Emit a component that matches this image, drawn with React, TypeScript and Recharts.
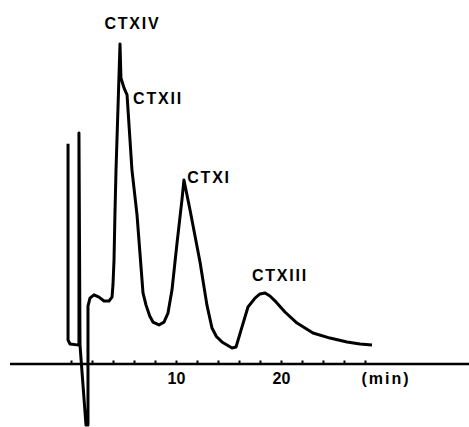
import { LineChart, Line, XAxis, YAxis, ReferenceLine, ReferenceDot } from "recharts";

// pen trace of the chromatogram: retention time (min) vs detector response (rel. %)
const times = [
  -0.33, -0.33, -0.14, 0.71, 0.71, 0.81, 1.38, 1.57, 1.57, 1.76, 2.14, 2.62, 3.1, 3.57, 3.86, 3.95,
  4.05, 4.14, 4.24, 4.62, 4.71, 5.0, 5.29, 5.76, 6.24, 6.81, 7.1, 7.45, 7.76, 8.33, 8.81, 9.19, 9.57,
  10.05, 10.52, 10.71, 11.29, 12.24, 12.9, 13.38, 13.8, 14.33, 15.29, 15.67, 16.24, 16.81, 17.48, 17.95,
  18.43, 18.9, 19.48, 20.33, 21.48, 23.0, 24.62, 26.24, 27.48, 28.62,
];
const response = [
  68.8, 7.5, 6.25, 5.9, 72.2, 5.9, -19.1, -19.1, 18.1, 20.6, 21.6, 20.9, 19.7, 19.7, 20.9, 24.7,
  32.5, 47.2, 60.6, 100, 89.4, 86.3, 84.1, 60.6, 46.6, 22.2, 18.4, 15.0, 13.1, 12.2, 13.1, 15.9, 23.1,
  37.8, 51.3, 57.5, 48.1, 31.9, 18.4, 11.25, 8.6, 6.9, 5.0, 5.3, 11.6, 17.8, 20.6, 21.9,
  22.2, 21.25, 19.4, 16.25, 12.8, 9.7, 8.1, 6.9, 6.25, 5.9,
];

const tickTimes = [0, 2, 4, 6, 8, 10, 12, 14, 16, 18, 20, 22, 24, 26, 28];

const peakNames = ["CTXIV", "CTXII", "CTXI", "CTXIII"];
const peakLabelT = [5.81, 8.24, 13.1, 19.86];
const peakLabelV = [106.6, 83.1, 58.4, 27.8];

const axisLabels = ["10", "20", "(min)"];
const axisLabelT = [10, 20, 29.95];

const data = times.map((t, i) => ({ t, v: response[i] }));

const font = "'Liberation Sans', Arial, sans-serif";

export default function App() {
  return (
    <div style={{ position: "absolute", left: 0, top: 0, background: "#fff" }}>
      <LineChart width={469} height={427} data={data} margin={{ top: 0, right: 0, bottom: 0, left: 0 }}>
        <XAxis type="number" dataKey="t" domain={[-6.81, 37.86]} allowDataOverflow hide />
        <YAxis type="number" domain={[-19.69, 113.75]} allowDataOverflow hide />
        <ReferenceLine
          segment={[{ x: -5.86, y: 0 }, { x: 37.86, y: 0 }]}
          stroke="#000"
          strokeWidth={2.5}
          ifOverflow="visible"
        />
        {tickTimes.map((t) => (
          <ReferenceLine
            key={t}
            segment={[{ x: t, y: 0 }, { x: t, y: 1.1 }]}
            stroke="#000"
            strokeWidth={2}
            ifOverflow="visible"
          />
        ))}
        <Line
          type="linear"
          dataKey="v"
          stroke="#000"
          strokeWidth={3}
          strokeLinejoin="round"
          dot={false}
          activeDot={false}
          isAnimationActive={false}
        />
        {peakNames.map((name, i) => (
          <ReferenceDot
            key={name}
            x={peakLabelT[i]}
            y={peakLabelV[i]}
            r={0}
            fill="none"
            stroke="none"
            ifOverflow="visible"
            label={{
              value: name,
              position: "center",
              fill: "#000",
              fontSize: 16,
              fontWeight: 700,
              fontFamily: font,
              letterSpacing: 1.8,
            }}
          />
        ))}
        {axisLabels.map((name, i) => (
          <ReferenceDot
            key={name}
            x={axisLabelT[i]}
            y={-4.4}
            r={0}
            fill="none"
            stroke="none"
            ifOverflow="visible"
            label={{
              value: name,
              position: "center",
              fill: "#000",
              fontSize: 16,
              fontWeight: 700,
              fontFamily: font,
              letterSpacing: i === 2 ? 2 : 0,
            }}
          />
        ))}
      </LineChart>
    </div>
  );
}
